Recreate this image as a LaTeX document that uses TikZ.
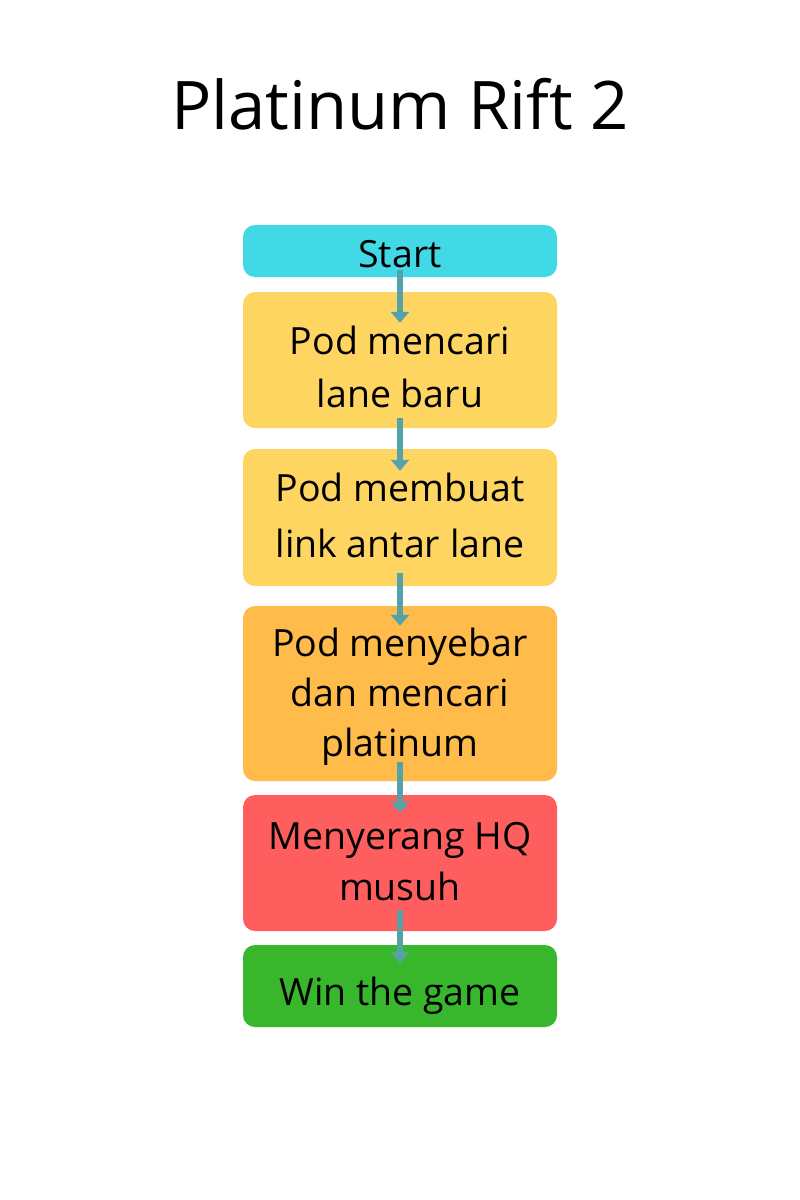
\documentclass[tikz,border=0pt]{standalone}
\usepackage{fontspec}
\setmainfont{Open Sans}
\usetikzlibrary{arrows.meta}
\definecolor{cstart}{HTML}{42D9E6}
\definecolor{cyel}{HTML}{FFD561}
\definecolor{corg}{HTML}{FFBC4A}
\definecolor{cred}{HTML}{FF5E5E}
\definecolor{cgrn}{HTML}{38B72D}
\definecolor{carr}{HTML}{55A3A9}
\begin{document}
\begin{tikzpicture}[x=1pt,y=-1pt,
  stepbox/.style={rounded corners=12pt, minimum width=314pt, inner sep=0pt},
  txt/.style={align=center, inner sep=0pt, text=black, anchor=base},
  flow/.style={draw=carr, line width=5.5pt, -{Triangle[width=18pt,length=11pt]}}]
\useasboundingbox (0,0) rectangle (800,1200);
\fill[white] (0,0) rectangle (800,1200);
\node (title) at (400,104) {\fontsize{67}{80}\selectfont Platinum Rift 2};
\node[stepbox, fill=cstart, minimum height=52pt] (s) at (400,251) {};
\node[stepbox, fill=cyel, minimum height=136pt] (b2) at (400,360) {};
\node[stepbox, fill=cyel, minimum height=137pt] (b3) at (400,517.5) {};
\node[stepbox, fill=corg, minimum height=175pt] (b4) at (400,693.5) {};
\node[stepbox, fill=cred, minimum height=136pt] (b5) at (400,863) {};
\node[stepbox, fill=cgrn, minimum height=82pt] (b6) at (400,986) {};
\node[txt, font=\fontsize{37.5}{53}\selectfont] (t1) at (400,267) {Start};
\node[txt, font=\fontsize{37.5}{53.3}\selectfont] (t2) at (400,407.3) {Pod mencari\\lane baru};
\node[txt, font=\fontsize{37.5}{55.6}\selectfont] (t3) at (400,557.3) {Pod membuat\\link antar lane};
\node[txt, font=\fontsize{37.5}{50}\selectfont] (t4) at (400,756.7) {Pod menyebar\\dan mencari\\platinum};
\node[txt, font=\fontsize{37.5}{51}\selectfont] (t5) at (400,900) {Menyerang HQ\\musuh};
\node[txt, font=\fontsize{37.5}{53}\selectfont] (t6) at (400,1005) {Win the game};
\draw[flow] ([yshift=7pt]s.south) -- ([yshift=-31pt]b2.north);
\draw[flow] ([yshift=10pt]b2.south) -- ([yshift=-22pt]b3.north);
\draw[flow] ([yshift=13pt]b3.south) -- ([yshift=-20pt]b4.north);
\draw[flow] ([yshift=19pt]b4.south) -- ([yshift=-18pt]b5.north);
\draw[flow] ([yshift=21pt]b5.south) -- ([yshift=-18pt]b6.north);
\end{tikzpicture}
\end{document}
